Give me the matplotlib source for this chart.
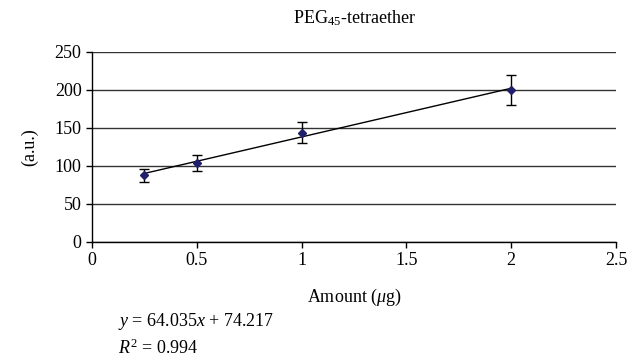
import matplotlib
matplotlib.use("Agg")
import matplotlib.pyplot as plt
import numpy as np

plt.rcParams['font.family'] = ['Liberation Serif', 'DejaVu Serif']
plt.rcParams['mathtext.fontset'] = 'custom'
plt.rcParams['mathtext.rm'] = 'Liberation Serif'
plt.rcParams['mathtext.it'] = 'Liberation Serif:italic'

amount = [0.25, 0.5, 1.0, 2.0]
signal = [88, 104, 144, 200]
err = [8.5, 11, 13.5, 20]
slope = 64.035
intercept = 74.217
r2 = 0.994
xticks = [0, 0.5, 1, 1.5, 2, 2.5]
yticks = [0, 50, 100, 150, 200, 250]

fig = plt.figure(figsize=(6.28, 3.62), dpi=100)
ax = fig.add_axes([92/628, 1-242/362, (616-92)/628, (242-52)/362])

ax.set_xlim(0, 2.5)
ax.set_ylim(0, 250)
ax.set_xticks(xticks)
ax.set_xticklabels(['0', '0.5', '1', '1.5', '2', '2.5'])
ax.set_yticks(yticks)
ax.yaxis.grid(True, color='#333333', linewidth=1.0)
ax.set_axisbelow(True)
for s in ['top', 'right']:
    ax.spines[s].set_visible(False)
for s in ['left', 'bottom']:
    ax.spines[s].set_linewidth(1.0)
ax.tick_params(direction='out', length=4, width=1, labelsize=13)

xs = np.array([amount[0], amount[-1]])
ax.plot(xs, slope * xs + intercept, color='black', linewidth=1.0, zorder=2)
ax.errorbar(amount, signal, yerr=err, fmt='D', color='#1f1f6b', markersize=4.5,
            ecolor='black', elinewidth=1.0, capsize=3.5, capthick=1.0, zorder=3)

fig.text(354/628, 1-18/362, 'PEG$_{45}$-tetraether', fontsize=13, ha='center', va='center')
fig.text(354/628, 1-297/362, 'Amount ($\\mu$g)', fontsize=13, ha='center', va='center')
fig.text(30/628, 1-147/362, '(a.u.)', fontsize=13, ha='center', va='center', rotation=90)

fig.text(118/628, 1-322/362, '$y$ = 64.035$x$ + 74.217', fontsize=13, va='center', ha='left')
fig.text(118/628, 1-348/362, '$R^2$ = 0.994', fontsize=13, va='center', ha='left')

fig.savefig('out.png', dpi=100)
